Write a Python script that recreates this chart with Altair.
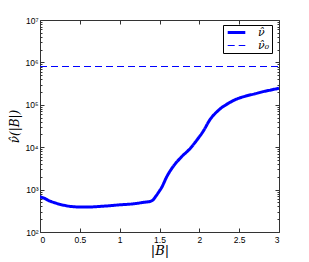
import altair as alt
import pandas as pd

# |B| positions and estimated nu-hat values
b_vals = [0, 0.05, 0.1, 0.2, 0.3, 0.4, 0.5, 0.6, 0.8, 1.0, 1.2, 1.3, 1.38, 1.42,
          1.46, 1.50, 1.53, 1.59, 1.67, 1.78, 1.88, 1.97, 2.05, 2.13, 2.24, 2.36,
          2.45, 2.59, 2.70, 2.80, 2.90, 3.0]
nu_vals = [676, 631, 562, 479, 427, 398, 389, 389, 407, 437, 468, 501, 525, 575,
           724, 933, 1148, 1995, 3467, 6026, 9120, 14791, 23988, 43652, 74131,
           107152, 131826, 162181, 181970, 204174, 223872, 245471]
nu0_b = [0, 3]
nu0_vals = [800000, 800000]

series_names = ["ν̂", "ν̂₀"]
x_ticks = [0, 0.5, 1, 1.5, 2, 2.5, 3]
y_major = [1e2, 1e3, 1e4, 1e5, 1e6, 1e7]
y_minor = [k * 10 ** e for e in range(2, 7) for k in range(2, 10)]

curve = pd.DataFrame({"B": b_vals, "nu": nu_vals, "series": series_names[0]})
ref = pd.DataFrame({"B": nu0_b, "nu": nu0_vals, "series": series_names[1]})
data = pd.concat([curve, ref], ignore_index=True)

xscale = alt.Scale(domain=[0, 3], nice=False, zero=False)
yscale = alt.Scale(type="log", domain=[1e2, 1e7], nice=False)

AX = "#333333"
SERIF = "DejaVu Serif"
label_expr = ("'10' + substring('⁰¹²³⁴⁵⁶⁷⁸⁹', round(log(datum.value)/LN10), "
              "round(log(datum.value)/LN10) + 1)")

common = dict(domain=False, grid=False, tickColor=AX, labelColor="black",
              labelFont="Liberation Sans", labelFontSize=8.5)

base = alt.Chart(data)

main = base.mark_line(interpolate="monotone", clip=True).encode(
    x=alt.X("B:Q", scale=xscale,
            axis=alt.Axis(values=x_ticks, format="~g", offset=-4, tickSize=4,
                          labelPadding=3, title="|B|", titleFont=SERIF,
                          titleFontStyle="italic", titleFontWeight="normal",
                          titleFontSize=13, titlePadding=1, **common)),
    y=alt.Y("nu:Q", scale=yscale,
            axis=alt.Axis(values=y_major, labelExpr=label_expr, offset=-4, tickSize=4,
                          labelPadding=2, title="ν̂(|B|)", titleFont=SERIF,
                          titleFontStyle="italic", titleFontWeight="normal",
                          titleFontSize=12, titlePadding=3, **common)),
    color=alt.Color("series:N", sort=series_names,
                    scale=alt.Scale(domain=series_names, range=["#0000ff", "#0000ff"]),
                    legend=alt.Legend(title=None)),
    strokeDash=alt.StrokeDash("series:N", sort=series_names,
                              scale=alt.Scale(domain=series_names, range=[[1, 0], [7, 4]]),
                              legend=alt.Legend(title=None)),
    strokeWidth=alt.StrokeWidth("series:N", sort=series_names,
                                scale=alt.Scale(domain=series_names, range=[3, 1]),
                                legend=alt.Legend(title=None)),
)

ghost = alt.Chart(ref).mark_point(opacity=0)

right_top = ghost.encode(
    x=alt.X("B:Q", scale=xscale,
            axis=alt.Axis(orient="top", values=x_ticks, labels=False, title=None,
                          offset=-4, tickSize=4, **common)),
    y=alt.Y("nu:Q", scale=yscale,
            axis=alt.Axis(orient="right", values=y_major, labels=False, title=None,
                          offset=-4, tickSize=4, **common)),
)

left_minor = ghost.encode(
    x=alt.X("B:Q", scale=xscale, axis=None),
    y=alt.Y("nu:Q", scale=yscale,
            axis=alt.Axis(orient="left", values=y_minor, labels=False, title=None,
                          offset=-2, tickSize=2, **common)),
)

right_minor = ghost.encode(
    x=alt.X("B:Q", scale=xscale, axis=None),
    y=alt.Y("nu:Q", scale=yscale,
            axis=alt.Axis(orient="right", values=y_minor, labels=False, title=None,
                          offset=-2, tickSize=2, **common)),
)

chart = alt.layer(main, right_top, left_minor, right_minor).resolve_axis(
    x="independent", y="independent"
).properties(
    width=239, height=212, autosize="none",
    padding={"left": 32, "top": 12, "right": 20, "bottom": 28},
    background="white",
).configure_view(
    stroke=AX, strokeWidth=1
).configure_legend(
    orient="none", legendX=183, legendY=5, strokeColor="black", fillColor="white",
    padding=2, rowPadding=0, symbolType="M-2.2,0H2.2", symbolSize=64,
    symbolOffset=6, labelOffset=16, labelFont=SERIF,
    labelFontStyle="italic", labelFontSize=11, labelColor="black",
    cornerRadius=0,
)

chart.save("out.html", embed_options={"renderer": "svg", "actions": False})
